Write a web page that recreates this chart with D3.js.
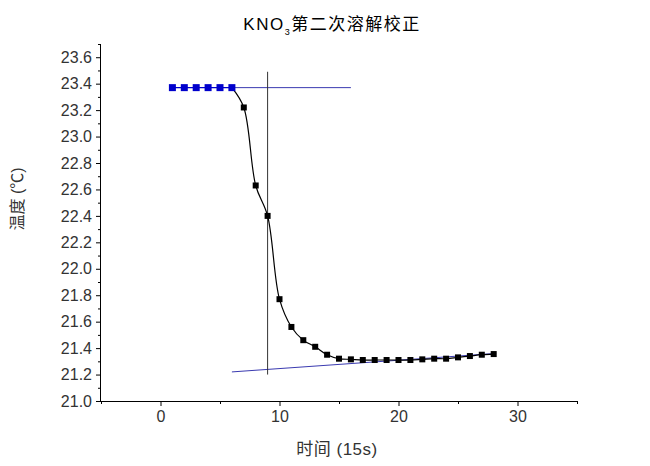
<!DOCTYPE html>
<html><head><meta charset="utf-8">
<script src="https://cdn.jsdelivr.net/npm/d3@7"></script>
<style>body{margin:0;background:#fff;} text{font-family:Arial,"Liberation Sans","Noto Sans CJK SC",sans-serif;}</style>
</head><body>
<svg id="c" width="650" height="466"></svg>
<script>
// Data
const preX = [1,2,3,4,5,6];
const preY = [23.37,23.37,23.37,23.37,23.37,23.37];
const mainX = [6,7,8,9,10,11,12,13,14,15,16,17,18,19,20,21,22,23,24,25,26,27,28];
const mainY = [23.37,23.22,22.63,22.40,21.77,21.56,21.46,21.41,21.35,21.32,21.315,21.31,21.31,21.31,21.31,21.31,21.315,21.32,21.32,21.33,21.34,21.35,21.355];
const topFitX = [6,16];
const topFitY = [23.37,23.37];
const botFitX = [6,28.2];
const botFitY = [21.22,21.36];
const vLineX = [9,9];
const vLineY = [23.49,21.20];
const xTicks = [0,10,20,30];
const yTicks = [21.0,21.2,21.4,21.6,21.8,22.0,22.2,22.4,22.6,22.8,23.0,23.2,23.4,23.6];
const title = "KNO";
const titleSub = "3";
const titleRest = "第二次溶解校正";
const xLabel = "时间 (15s)";
const yLabel = "温度 (℃)";

const svg = d3.select("#c");
const L=101, R=577, T=44, B=401;
const x = d3.scaleLinear().domain([-5,35]).range([L,R]);
const y = d3.scaleLinear().domain([21.0,23.7]).range([B,T]);

// axes
const xAxis = d3.axisBottom(x).tickValues(xTicks).tickSize(5).tickPadding(5).tickFormat(d3.format("d"));
const gx = svg.append("g").attr("transform",`translate(0,${B})`).call(xAxis);
const xMinor = d3.axisBottom(x).tickValues([-5,5,15,25,35]).tickSize(3).tickFormat("");
svg.append("g").attr("transform",`translate(0,${B})`).call(xMinor).select(".domain").remove();
const yAxis = d3.axisLeft(y).tickValues(yTicks).tickSize(5).tickPadding(4).tickFormat(d3.format(".1f"));
const gy = svg.append("g").attr("transform",`translate(${L},0)`).call(yAxis);
const yMinorVals = d3.range(21.1,23.71,0.2).map(v=>+v.toFixed(1));
svg.append("g").attr("transform",`translate(${L},0)`).call(d3.axisLeft(y).tickValues(yMinorVals).tickSize(3).tickFormat("")).select(".domain").remove();
svg.selectAll(".domain").attr("stroke","#000").attr("stroke-width",1);
svg.selectAll(".tick line").attr("stroke","#000");
svg.selectAll(".tick text").attr("font-size","16px").attr("fill","#333");
gx.select(".domain").attr("d",`M${L},0.5H${R}`);
gy.select(".domain").attr("d",`M-0.5,${B}V${T}`);

const line = d3.line().x(d=>x(d[0])).y(d=>y(d[1]));
// fit lines
svg.append("path").datum(topFitX.map((v,i)=>[v,topFitY[i]])).attr("d",line).attr("fill","none").attr("stroke","#3a3ab0").attr("stroke-width",1);
svg.append("path").datum(botFitX.map((v,i)=>[v,botFitY[i]])).attr("d",line).attr("fill","none").attr("stroke","#3a3ab0").attr("stroke-width",1);
svg.append("path").datum(vLineX.map((v,i)=>[v,vLineY[i]])).attr("d",line).attr("fill","none").attr("stroke","#333").attr("stroke-width",1);

// main curve
const curve = d3.line().x(d=>x(d[0])).y(d=>y(d[1])).curve(d3.curveCatmullRom.alpha(0.5));
svg.append("path").datum(mainX.map((v,i)=>[v,mainY[i]])).attr("d",curve).attr("fill","none").attr("stroke","#000").attr("stroke-width",1.2);
// pre line blue
svg.append("path").datum(preX.map((v,i)=>[v,preY[i]])).attr("d",line).attr("fill","none").attr("stroke","#0000cc").attr("stroke-width",1.2);

// markers
svg.append("g").selectAll("rect").data(mainX.slice(1).map((v,i)=>[v,mainY[i+1]])).join("rect")
  .attr("x",d=>x(d[0])-3).attr("y",d=>y(d[1])-3).attr("width",6).attr("height",6).attr("fill","#000");
svg.append("g").selectAll("rect").data(preX.map((v,i)=>[v,preY[i]])).join("rect")
  .attr("x",d=>x(d[0])-3.5).attr("y",d=>y(d[1])-3.5).attr("width",7).attr("height",7).attr("fill","#0000cc");

// title
const t = svg.append("text").attr("x",332).attr("y",30).attr("text-anchor","middle").attr("font-size","17px").attr("fill","#000").attr("letter-spacing","1.5px");
t.append("tspan").text(title);
t.append("tspan").text(titleSub).attr("font-size","9px").attr("dy","5");
t.append("tspan").text(titleRest).attr("dy","-5").attr("font-family","'Noto Sans CJK SC',sans-serif");
// labels
svg.append("text").attr("x",337).attr("y",455).attr("text-anchor","middle").attr("font-size","17px").attr("fill","#333").attr("letter-spacing","0.5px").text(xLabel);
svg.append("text").attr("transform","translate(23,199) rotate(-90)").attr("text-anchor","middle").attr("font-size","16px").attr("fill","#333").text(yLabel);
</script>
</body></html>
